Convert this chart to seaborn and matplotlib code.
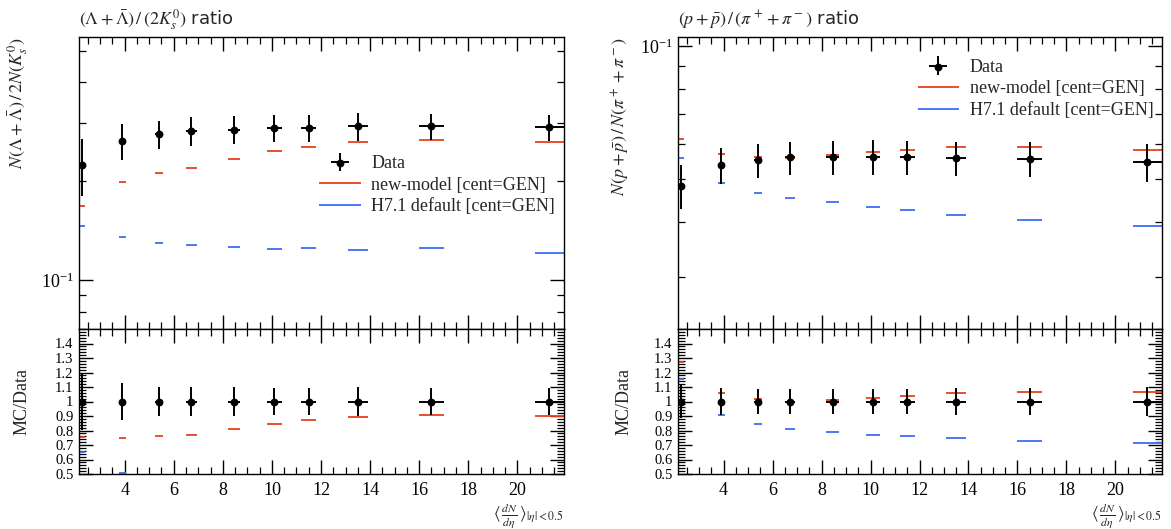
import numpy as np
import matplotlib
matplotlib.use("Agg")
import matplotlib.pyplot as plt
import seaborn as sns
import pandas as pd
from matplotlib.ticker import (MultipleLocator, LogLocator, NullFormatter,
                               FixedLocator, FixedFormatter, LogFormatterSciNotation)
from matplotlib.legend_handler import HandlerTuple

# ---------------- data ----------------
x = [2.26, 3.90, 5.40, 6.72, 8.45, 10.1, 11.5, 13.5, 16.5, 21.3]
xerr = [0.12, 0.14, 0.17, 0.21, 0.25, 0.30, 0.30, 0.40, 0.50, 0.60]

lam_data = [0.224, 0.2647, 0.278, 0.2843, 0.2869, 0.2904, 0.291, 0.2937, 0.2937, 0.292]
lam_err = [0.044, 0.033, 0.027, 0.029, 0.028, 0.028, 0.028, 0.029, 0.027, 0.027]
lam_new = [0.1684, 0.1984, 0.2119, 0.2188, 0.2333, 0.2463, 0.2538, 0.263, 0.2668, 0.2634]
lam_h71 = [0.1456, 0.1347, 0.1291, 0.1280, 0.1259, 0.1238, 0.1247, 0.1235, 0.1253, 0.1207]

pp_data = [0.0483, 0.0538, 0.0552, 0.0560, 0.0560, 0.0562, 0.0560, 0.0557, 0.0555, 0.0547]
pp_err = [0.0055, 0.0050, 0.0048, 0.0048, 0.0050, 0.0050, 0.0050, 0.0050, 0.0050, 0.0054]
pp_new = [0.0615, 0.0570, 0.0560, 0.0559, 0.0567, 0.0577, 0.0582, 0.0590, 0.0592, 0.0582]
pp_h71 = [0.0557, 0.0489, 0.0466, 0.0454, 0.0443, 0.0433, 0.0426, 0.0415, 0.0404, 0.0391]

titles = [r"$(\Lambda+\bar{\Lambda})\,/\,(2K_s^0)$ ratio",
          r"$(p+\bar{p})\,/\,(\pi^+ + \pi^-)$ ratio"]
ylabels = [r"$N(\Lambda+\bar{\Lambda})\,/\,2N(K_s^0)$",
           r"$N(p+\bar{p})\,/\,N(\pi^+ + \pi^-)$"]
xlabel = r"$\langle\,\frac{dN}{d\eta}\,\rangle_{|\eta|<0.5}$"
legend_labels = ["Data", "new-model [cent=GEN]", "H7.1 default [cent=GEN]"]
ratio_ticks = [0.5, 0.6, 0.7, 0.8, 0.9, 1.0, 1.1, 1.2, 1.3, 1.4]
ratio_ticklabels = ["0.5", "0.6", "0.7", "0.8", "0.9", "1", "1.1", "1.2", "1.3", "1.4"]

RED = "#E8401C"
BLUE = "#3D6EF5"

# ---------------- style ----------------
sns.set_theme(style="ticks")
plt.rcParams["font.family"] = ["Liberation Serif", "DejaVu Serif"]
plt.rcParams["mathtext.fontset"] = "stix"
plt.rcParams["axes.edgecolor"] = "black"
plt.rcParams["axes.linewidth"] = 1.0

W, H = 1171, 529
fig = plt.figure(figsize=(W / 100, H / 100), dpi=100)

panels = [
    dict(left=79, right=564, data=lam_data, err=lam_err, new=lam_new, h71=lam_h71,
         ylim=(0.0708, 0.55), leg=(0.48, 0.62), title=titles[0], ylabel=ylabels[0],
         lab_x=-0.10),
    dict(left=678, right=1162, data=pp_data, err=pp_err, new=pp_new, h71=pp_h71,
         ylim=(0.0229, 0.1048), leg=(0.48, 0.95), title=titles[1], ylabel=ylabels[1],
         lab_x=-0.095),
]

top, mid, bot = 37, 329, 474
xa = np.array(x)
xe = np.array(xerr)


def style_ticks(ax):
    ax.tick_params(which="both", direction="in", top=True, right=True, colors="black",
                   labelsize=13)
    ax.tick_params(which="major", length=10, width=1.0)
    ax.tick_params(which="minor", length=5, width=0.9)


for p in panels:
    l = p["left"] / W
    w = (p["right"] - p["left"]) / W
    ax = fig.add_axes([l, 1 - mid / H, w, (mid - top) / H])
    axr = fig.add_axes([l, 1 - bot / H, w, (bot - mid) / H], sharex=ax)

    d = np.array(p["data"])
    e = np.array(p["err"])
    new = np.array(p["new"])
    h71 = np.array(p["h71"])

    # ---- main panel ----
    lc_new = ax.hlines(new, xa - xe, xa + xe, colors=RED, lw=1.3, label=legend_labels[1])
    lc_h71 = ax.hlines(h71, xa - xe, xa + xe, colors=BLUE, lw=1.3, label=legend_labels[2])
    eb = ax.errorbar(xa, d, xerr=xe, yerr=e, fmt="none", ecolor="black", elinewidth=1.4)
    df = pd.DataFrame({"x": xa, "y": d})
    sns.scatterplot(data=df, x="x", y="y", ax=ax, color="black", s=32, edgecolor="black",
                    linewidth=0, zorder=5, legend=False)
    sc = ax.collections[-1]

    ax.set_yscale("log")
    ax.set_ylim(*p["ylim"])
    ax.set_xlim(2.14, 21.9)
    ax.yaxis.set_major_locator(LogLocator(base=10, subs=(1.0,)))
    ax.yaxis.set_major_formatter(LogFormatterSciNotation())
    ax.yaxis.set_minor_locator(LogLocator(base=10, subs=np.arange(2, 10)))
    ax.yaxis.set_minor_formatter(NullFormatter())
    ax.xaxis.set_major_locator(MultipleLocator(2))
    ax.xaxis.set_minor_locator(MultipleLocator(0.5))
    style_ticks(ax)
    ax.tick_params(axis="x", labelbottom=False)
    ax.set_xlabel("")
    ax.set_ylabel(p["ylabel"], fontsize=13, loc="top")
    ax.yaxis.set_label_coords(p["lab_x"], 1.0)
    ax.set_title(p["title"], loc="left", fontsize=13, pad=9, family=["DejaVu Sans"])

    ax.legend([(eb, sc), lc_new, lc_h71], legend_labels,
              handler_map={tuple: HandlerTuple(ndivide=1)},
              loc="upper left", bbox_to_anchor=p["leg"], frameon=False,
              fontsize=13, handlelength=2.3, handletextpad=0.6, labelspacing=0.25,
              borderaxespad=0)

    # ---- ratio panel ----
    axr.hlines(new / d, xa - xe, xa + xe, colors=RED, lw=1.3)
    axr.hlines(h71 / d, xa - xe, xa + xe, colors=BLUE, lw=1.3)
    axr.errorbar(xa, np.ones_like(d), xerr=xe, yerr=e / d, fmt="none", ecolor="black",
                 elinewidth=1.4)
    dfr = pd.DataFrame({"x": xa, "y": np.ones_like(d)})
    sns.scatterplot(data=dfr, x="x", y="y", ax=axr, color="black", s=32, linewidth=0,
                    zorder=5, legend=False)
    axr.set_ylim(0.5, 1.5)
    axr.set_xlim(2.14, 21.9)
    axr.yaxis.set_major_locator(FixedLocator(ratio_ticks))
    axr.yaxis.set_major_formatter(FixedFormatter(ratio_ticklabels))
    axr.yaxis.set_minor_locator(MultipleLocator(0.02))
    axr.xaxis.set_major_locator(MultipleLocator(2))
    axr.xaxis.set_minor_locator(MultipleLocator(0.5))
    style_ticks(axr)
    axr.tick_params(axis="y", which="major", labelsize=10.5, pad=4)
    axr.tick_params(axis="x", pad=6)
    axr.set_ylabel("MC/Data", fontsize=13)
    axr.yaxis.set_label_coords(p["lab_x"], 0.5)
    axr.set_xlabel(xlabel, fontsize=12, loc="right")
    axr.xaxis.set_label_coords(1.0, -0.19)

fig.savefig("out.png", dpi=100)
